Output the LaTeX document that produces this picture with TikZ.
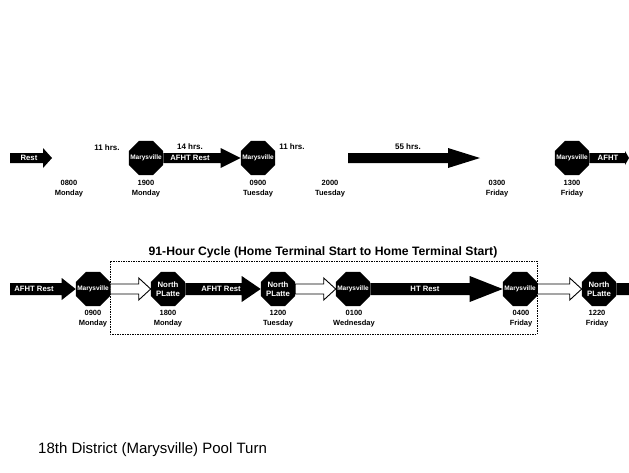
\documentclass[tikz,border=0pt]{standalone}
\usepackage{fontspec}
\setmainfont{Liberation Sans}
\usetikzlibrary{shapes.geometric,calc}
\tikzset{
  oct/.style={regular polygon, regular polygon sides=8, fill=black, minimum size=37pt,
    inner sep=0pt},
  octtxt/.style={text=white, font=\bfseries\fontsize{6.5}{8.5}\selectfont, align=center, inner sep=0pt},
  npl/.style={text=white, font=\bfseries\fontsize{7.8}{8.5}\selectfont, align=center, inner sep=0pt},
  hl/.store in=\ahl, hw/.store in=\ahw, sw/.store in=\asw,
  hl=20pt, hw=10pt, sw=5pt,
  barrow/.style={to path={let \p1=(\tikztostart), \p2=(\tikztotarget) in
    (\x1,\y1+\asw) -- (\x2-\ahl,\y1+\asw) -- (\x2-\ahl,\y1+\ahw) -- (\x2,\y1)
    -- (\x2-\ahl,\y1-\ahw) -- (\x2-\ahl,\y1-\asw) -- (\x1,\y1-\asw) -- cycle}},
  blk/.style={barrow, fill=black},
  hol/.style={barrow, fill=white, draw=black, line width=0.9pt},
  lbl/.style={font=\bfseries\fontsize{7.5}{10}\selectfont, align=center},
  hrs/.style={font=\bfseries\fontsize{8}{9}\selectfont, inner sep=0pt},
  onarr/.style={text=white, font=\bfseries\fontsize{7.7}{8}\selectfont, inner sep=0pt},
}
\begin{document}
\begin{tikzpicture}[x=1pt,y=-1pt]
\useasboundingbox (0,0) rectangle (629,472);
% ---------- top row ----------
\coordinate (ra) at (10,158);
\coordinate (rb) at (52,158);
\node[oct, label={[octtxt]center:Marysville}] (m1) at (146,158) {};
\node[oct, label={[octtxt]center:Marysville}] (m2) at (258,158) {};
\coordinate (fa) at (348,158);
\coordinate (fb) at (480,158);
\node[oct, label={[octtxt]center:Marysville}] (m3) at (572,158) {};
\coordinate (ea) at (629,158);

\path[blk, hl=9pt, hw=10pt, sw=5pt] (ra) to (rb);
\node[onarr] (trest) at (29,158) {Rest};
\path[blk, hl=20pt, hw=10pt, sw=5pt] (m1.east) to (m2.west);
\node[onarr] (tafht1) at (190,158) {AFHT Rest};
\path[blk, hl=32pt, hw=10pt, sw=5pt] (fa) to (fb);
\path[blk, hl=4pt, hw=7pt, sw=5pt] (m3.east) to (ea);
\node[onarr] (tafht2) at (608,158) {AFHT};

\node[hrs] (h1) at (107,148) {11 hrs.};
\node[hrs] (h2) at (190,147) {14 hrs.};
\node[hrs] (h3) at (292,147) {11 hrs.};
\node[hrs] (h4) at (408,147) {55 hrs.};

\node[lbl] (t1) at (69,189) {0800\\Monday};
\node[lbl] (t2) at (146,189) {1900\\Monday};
\node[lbl] (t3) at (258,189) {0900\\Tuesday};
\node[lbl] (t4) at (330,189) {2000\\Tuesday};
\node[lbl] (t5) at (497,189) {0300\\Friday};
\node[lbl] (t6) at (572,189) {1300\\Friday};

% ---------- title and cycle box ----------
\node[font=\bfseries\fontsize{12.2}{14}\selectfont] (title) at (323,252)
  {91-Hour Cycle (Home Terminal Start to Home Terminal Start)};
\draw[dash pattern=on 1.5pt off 1pt, line width=0.6pt] (110,261) rectangle (537,334);

% ---------- second row ----------
\coordinate (sa) at (10,289);
\node[oct, label={[octtxt]center:Marysville}] (n1) at (93,289) {};
\node[oct, label={[npl]center:North\\PLatte}] (n2) at (168,289) {};
\node[oct, label={[npl]center:North\\PLatte}] (n3) at (278,289) {};
\node[oct, label={[octtxt]center:Marysville}] (n4) at (353,289) {};
\node[oct, label={[octtxt]center:Marysville}] (n5) at (520,289) {};
\node[oct, label={[npl]center:North\\PLatte}] (n6) at (599,289) {};
\coordinate (sb) at (629,289);

\path[blk, hl=14pt, hw=11pt, sw=6pt] (sa) to (n1.west);
\node[onarr] (ta1) at (34,289) {AFHT Rest};
\path[hol, hl=12pt, hw=11pt, sw=5pt] (n1.east) to (n2.west);
\path[blk, hl=19pt, hw=13pt, sw=6pt] (n2.east) to (n3.west);
\node[onarr] (ta2) at (221,289) {AFHT Rest};
\path[hol, hl=12pt, hw=11pt, sw=5pt] (n3.east) to (n4.west);
\path[blk, hl=33pt, hw=13pt, sw=6pt] (n4.east) to (n5.west);
\node[onarr] (ta3) at (425,289) {HT Rest};
\path[hol, hl=12pt, hw=11pt, sw=5pt] (n5.east) to (n6.west);
\path[blk, hl=0pt, hw=6pt, sw=6pt] (n6.east) to (sb);

\node[lbl] (u1) at (93,319) {0900\\Monday};
\node[lbl] (u2) at (168,319) {1800\\Monday};
\node[lbl] (u3) at (278,319) {1200\\Tuesday};
\node[lbl] (u4) at (354,319) {0100\\Wednesday};
\node[lbl] (u5) at (521,319) {0400\\Friday};
\node[lbl] (u6) at (597,319) {1220\\Friday};

% ---------- footer ----------
\node[anchor=west, font=\fontsize{15}{17}\selectfont, inner sep=0pt] (foot) at (38,450)
  {18th District (Marysville) Pool Turn};
\end{tikzpicture}
\end{document}
